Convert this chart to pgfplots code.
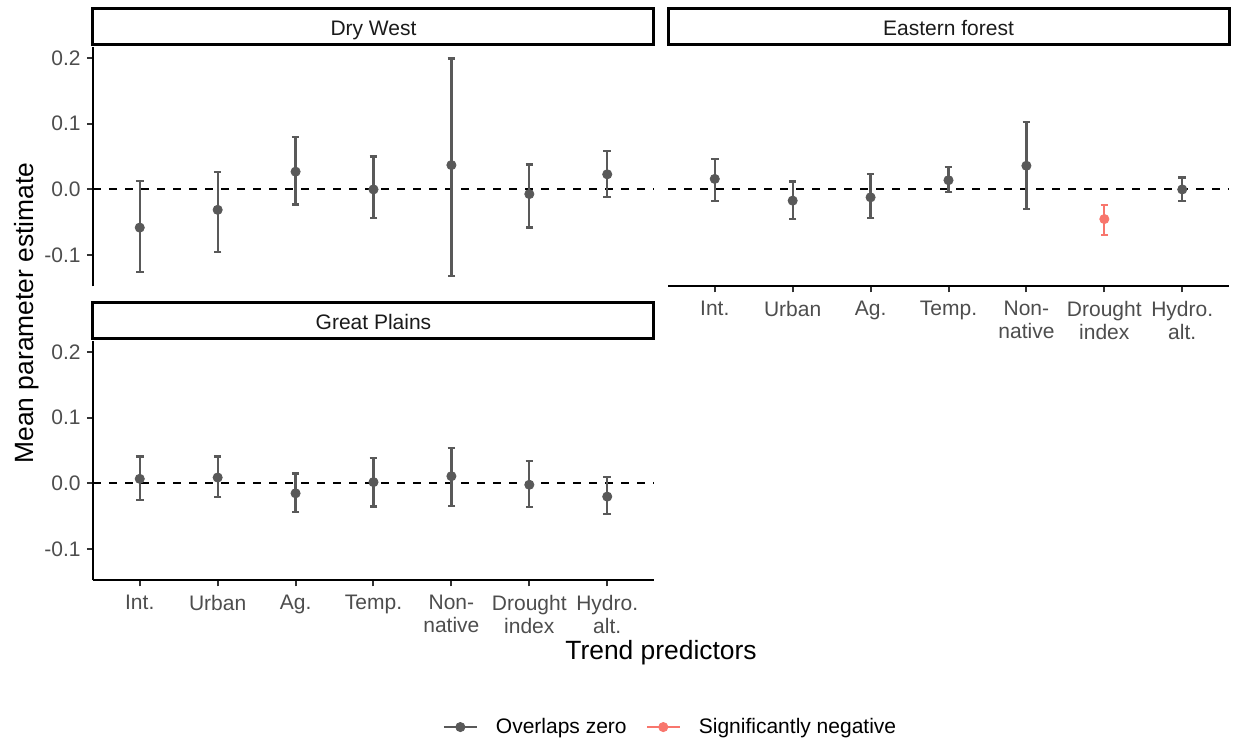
\documentclass[border=0pt]{standalone}
\usepackage{fontspec}
\setmainfont{Liberation Sans}
\usepackage{pgfplots}
\usepackage{pgfplotstable}
\pgfplotsset{compat=1.18}

\definecolor{ptgrey}{HTML}{595959}
\definecolor{ptred}{HTML}{F8766D}
\definecolor{ticklab}{HTML}{4D4D4D}
\definecolor{tickcol}{HTML}{333333}
\definecolor{striptext}{HTML}{1A1A1A}

% x = predictor index, y = mean, lo/hi = interval
\pgfplotstableread{
x y lo hi
1 -0.058 -0.126 0.013
2 -0.031 -0.095 0.027
3 0.027 -0.023 0.080
4 0.000 -0.044 0.050
5 0.037 -0.131 0.199
6 -0.007 -0.058 0.038
7 0.023 -0.011 0.058
}\drywest
\pgfplotstableread{
x y lo hi
1 0.016 -0.017 0.046
2 -0.017 -0.045 0.012
3 -0.012 -0.043 0.023
4 0.014 -0.004 0.034
5 0.036 -0.030 0.102
7 0.000 -0.018 0.018
}\eastgrey
\pgfplotstableread{
x y lo hi
6 -0.045 -0.069 -0.024
}\eastred
\pgfplotstableread{
x y lo hi
1 0.007 -0.025 0.041
2 0.009 -0.020 0.041
3 -0.015 -0.044 0.015
4 0.002 -0.035 0.039
5 0.011 -0.034 0.054
6 -0.002 -0.036 0.034
7 -0.020 -0.047 0.010
}\plains

\newcommand{\lab}{\fontsize{10.5}{11.5}\selectfont}

\tikzset{stripbox/.style={line width=1.5pt, black}}

\pgfplotsset{
  panel/.style={
    scale only axis, width=280.5pt, height=119.75pt,
    xmin=0.4, xmax=7.6, ymin=-0.1475, ymax=0.2165,
    xtick={1,2,3,4,5,6,7},
    xticklabels={Int., Urban, Ag., Temp., Non-\\native, Drought\\index, Hydro.\\alt.},
    ytick={-0.1,0,0.1,0.2},
    yticklabels={-0.1,0.0,0.1,0.2},
    axis x line*=bottom, axis y line*=left,
    axis line style={-, black, line width=1pt},
    tick style={tickcol, line width=1pt},
    tick align=outside, major tick length=3pt,
    ticklabel style={font=\lab, text=ticklab},
    xticklabel style={align=center, anchor=north, inner sep=0pt, yshift=-4pt},
    yticklabel style={anchor=east, inner sep=0pt, xshift=-3pt},
    clip=false,
  },
  zero/.style={black, line width=1pt, dash pattern=on 4pt off 4pt},
  est/.style={#1, only marks, mark=*, mark size=2.3pt,
    mark options={fill=#1, draw=#1},
    error bars/.cd, y dir=both, y explicit,
    error bar style={line width=1.1pt, #1},
    error mark options={line width=1.1pt, mark size=1.9pt, rotate=90, #1}},
}

\newcommand{\striplabel}[1]{%
  \draw[stripbox] ([yshift=1pt]rel axis cs:0,1) rectangle ([yshift=19pt]rel axis cs:1,1);
  \node[anchor=base, font=\lab, text=striptext] at ([yshift=5.5pt]rel axis cs:0.5,1) {#1};
}

\begin{document}
\begin{tikzpicture}
\useasboundingbox (0,0) rectangle (618pt,371pt);

% Dry West
\begin{axis}[panel, at={(46.5pt,227.75pt)}, anchor=south west, axis x line=none]
\addplot[zero] coordinates {(0.4,0) (7.6,0)};
\addplot[est=ptgrey] table[x=x, y=y, y error plus expr=\thisrow{hi}-\thisrow{y}, y error minus expr=\thisrow{y}-\thisrow{lo}] {\drywest};
\striplabel{Dry West}
\end{axis}

% Eastern forest
\begin{axis}[panel, at={(334pt,227.75pt)}, anchor=south west, axis y line=none]
\addplot[zero] coordinates {(0.4,0) (7.6,0)};
\addplot[est=ptgrey] table[x=x, y=y, y error plus expr=\thisrow{hi}-\thisrow{y}, y error minus expr=\thisrow{y}-\thisrow{lo}] {\eastgrey};
\addplot[est=ptred] table[x=x, y=y, y error plus expr=\thisrow{hi}-\thisrow{y}, y error minus expr=\thisrow{y}-\thisrow{lo}] {\eastred};
\striplabel{Eastern forest}
\end{axis}

% Great Plains
\begin{axis}[panel, at={(46.5pt,80.75pt)}, anchor=south west,
  legend columns=2,
  legend style={at={(1.0276,-0.612)}, anchor=center, draw=none, fill=none,
    font=\lab, inner sep=0pt,
    nodes={inner sep=0pt},
    /tikz/every odd column/.append style={column sep=9pt},
    /tikz/every even column/.append style={column sep=9.5pt}},
  legend image code/.code={
    \draw[line width=1.1pt] (0pt,0pt) -- (16.5pt,0pt);
    \fill (8.25pt,0pt) circle (2.3pt);
  }]
\addplot[zero, forget plot] coordinates {(0.4,0) (7.6,0)};
\addplot[est=ptgrey] table[x=x, y=y, y error plus expr=\thisrow{hi}-\thisrow{y}, y error minus expr=\thisrow{y}-\thisrow{lo}] {\plains};
\addlegendentry{Overlaps zero}
\addlegendimage{ptred, fill=ptred}
\addlegendentry{Significantly negative}
\striplabel{Great Plains}
\end{axis}

\node[anchor=base, font=\fontsize{13.2}{14}\selectfont] at (330.5pt,41pt) {Trend predictors};
\node[anchor=base, rotate=90, font=\fontsize{13.2}{14}\selectfont] at (16.5pt,214.5pt) {Mean parameter estimate};
\end{tikzpicture}
\end{document}
